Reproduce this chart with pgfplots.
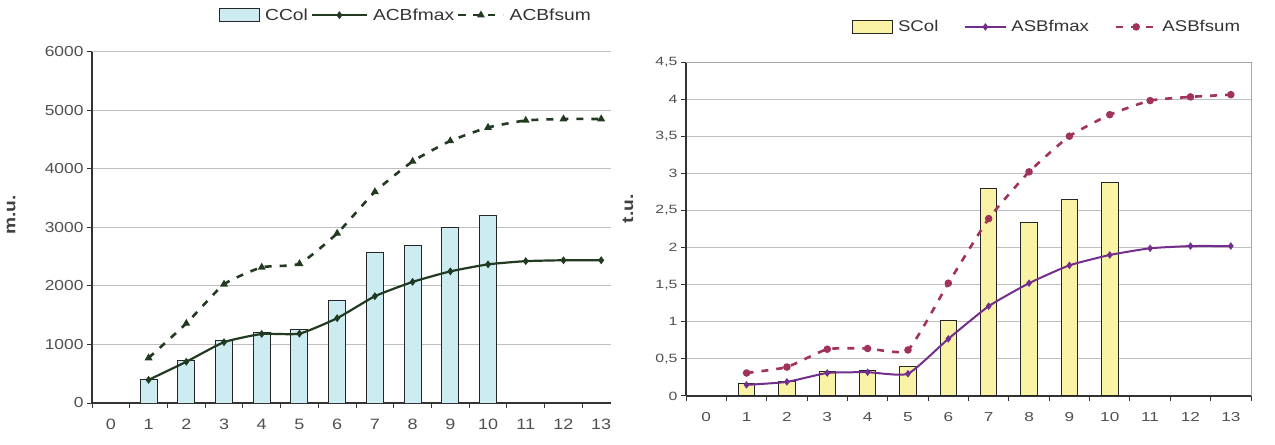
\documentclass[border=0pt]{standalone}
\usepackage{fontspec}
\setmainfont{Liberation Sans}[FakeStretch=1.2]
\newfontfamily\widefont{Liberation Sans}[FakeStretch=1.32]
\usepackage{pgfplots}
\pgfplotsset{compat=1.18}

\definecolor{cyanfill}{RGB}{204,236,242}
\definecolor{darkgreen}{RGB}{34,58,34}
\definecolor{yellowfill}{RGB}{250,242,165}
\definecolor{violet}{RGB}{115,45,140}
\definecolor{plum}{RGB}{160,50,92}
\definecolor{ticktext}{RGB}{80,80,80}

\pgfplotsset{
  panel/.style={
    scale only axis,
    xmin=-0.5, ymin=0,
    axis x line*=bottom, axis y line*=left,
    axis line style={draw=black!80, line width=1.2bp},
    xtick={0,...,13},
    major x tick style={draw=none},
    minor xtick={-0.5,0.5,...,13.5},
    tick align=outside,
    major tick length=5bp, minor tick length=5bp,
    tick style={draw=black!80, line width=1bp},
    ymajorgrids,
    grid style={draw=black!25, line width=1bp},
    ticklabel style={text=ticktext},
    xticklabel style={yshift=-8bp},
    /pgf/number format/assume math mode=true,
    /pgf/number format/1000 sep={},
    ylabel style={font=\bfseries\fontsize{16bp}{18bp}\selectfont, text=black!75, anchor=center},
    legend style={draw=none, fill=none, anchor=center, legend columns=-1, text=black!80,
      /tikz/every odd column/.append style={column sep=3bp}},
  },
  barlegend/.style={legend image code/.code={
      \draw[fill=#1, draw=black!85, line width=1bp] (0bp,-6.5bp) rectangle (40bp,6.5bp);}},
  linelegend/.style={legend image code/.code={
      \draw[mark repeat=2, mark phase=2, ##1] plot coordinates {(0bp,0bp) (#1/2,0bp) (#1,0bp)};}},
}

\begin{document}
\begin{tikzpicture}
\useasboundingbox (0,0) rectangle (1275bp,445bp);

% cost panel
\begin{axis}[panel,
  at={(92bp,42bp)}, anchor=south west,
  width=519bp, height=351bp,
  xmax=13.26, ymax=6000,
  ytick={0,1000,...,6000},
  yticklabel style={font=\fontsize{14.5bp}{16bp}\selectfont},
  xticklabel style={font=\fontsize{15bp}{16bp}\selectfont},
  ylabel={m.u.},
  ylabel style={at={(axis description cs:-0.156,0.536)}},
  legend style={at={(axis description cs:0.605,1.105)},
    font=\fontsize{16bp}{18bp}\selectfont,
    /tikz/every even column/.append style={column sep=1bp}},
]
\addplot[ybar, bar width=17bp, fill=cyanfill, draw=black!85, line width=1bp, barlegend=cyanfill]
  coordinates {(1,410) (2,725) (3,1060) (4,1200) (5,1250) (6,1745) (7,2570) (8,2700) (9,3000) (10,3200)};
\addlegendentry{CCol}
\addplot[smooth, tension=0.3, darkgreen, line width=2.2bp, mark=diamond*, mark size=2.2bp, linelegend=55bp]
  coordinates {(1,395) (2,705) (3,1040) (4,1180) (5,1185) (6,1450) (7,1825) (8,2070) (9,2250) (10,2370) (11,2425) (12,2440) (13,2440)};
\addlegendentry{ACBfmax}
\addplot[smooth, tension=0.3, darkgreen, line width=2.6bp, dash pattern=on 7bp off 8bp,
  mark=triangle*, mark size=2bp, mark options={solid}, linelegend=45bp]
  coordinates {(1,770) (2,1360) (3,2030) (4,2320) (5,2380) (6,2900) (7,3610) (8,4130) (9,4480) (10,4710) (11,4830) (12,4855) (13,4855)};
\addlegendentry{ACBfsum}
\end{axis}

% time panel
\begin{axis}[panel,
  at={(686bp,49bp)}, anchor=south west,
  width=565bp, height=334bp,
  xmax=13.5, ymax=4.5,
  ytick={0,0.5,...,4.5},
  yticklabel style={font=\widefont\fontsize{12bp}{14bp}\selectfont},
  xticklabel style={font=\widefont\fontsize{13bp}{14bp}\selectfont},
  /pgf/number format/use comma,
  ylabel={t.u.},
  ylabel style={at={(axis description cs:-0.1027,0.56)}},
  legend style={at={(axis description cs:0.639,1.105)},
    font=\fontsize{15.5bp}{17bp}\selectfont,
    /tikz/every even column/.append style={column sep=24bp}},
  after end axis/.code={
    \draw[black!35, line width=1bp] (rel axis cs:0,1) -- (rel axis cs:1,1) -- (rel axis cs:1,0);},
]
\addplot[ybar, bar width=16.5bp, fill=yellowfill, draw=black!85, line width=1bp, barlegend=yellowfill]
  coordinates {(1,0.165) (2,0.20) (3,0.33) (4,0.35) (5,0.395) (6,1.02) (7,2.79) (8,2.34) (9,2.65) (10,2.88)};
\addlegendentry{SCol}
\addplot[smooth, tension=0.3, violet, line width=2bp, mark=diamond*, mark size=2.2bp, linelegend=40bp]
  coordinates {(1,0.15) (2,0.19) (3,0.31) (4,0.32) (5,0.30) (6,0.77) (7,1.21) (8,1.52) (9,1.76) (10,1.90) (11,1.99) (12,2.02) (13,2.02)};
\addlegendentry{ASBfmax}
\addplot[smooth, tension=0.3, plum, line width=2.6bp, dash pattern=on 7bp off 8bp,
  mark=*, mark size=2.4bp, mark options={solid}, linelegend=40bp]
  coordinates {(1,0.31) (2,0.39) (3,0.63) (4,0.64) (5,0.62) (6,1.52) (7,2.39) (8,3.02) (9,3.50) (10,3.79) (11,3.98) (12,4.03) (13,4.06)};
\addlegendentry{ASBfsum}
\end{axis}
\end{tikzpicture}
\end{document}
